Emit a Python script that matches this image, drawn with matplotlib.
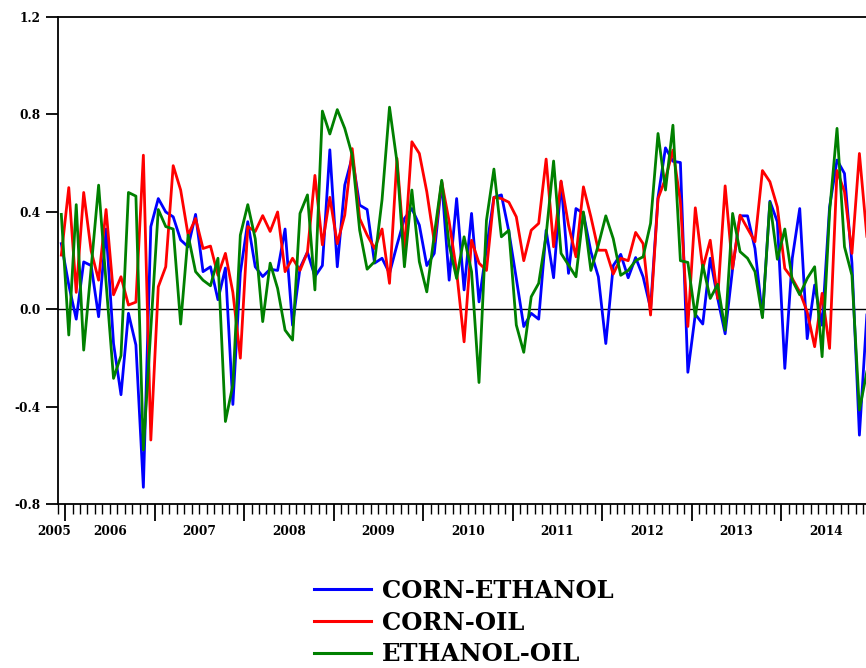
import numpy as np
import matplotlib
matplotlib.use("Agg")
import matplotlib.pyplot as plt
from matplotlib.lines import Line2D

# Monthly observations, Dec 2005 .. Dec 2014
start_year, start_month = 2005, 12
corn_ethanol = [
    0.27, 0.10, -0.04, 0.195, 0.18, -0.03, 0.33, -0.14, -0.35, -0.016, -0.146, -0.73,
    0.34, 0.455, 0.40, 0.38, 0.285, 0.257, 0.39, 0.155, 0.175, 0.04, 0.17, -0.39,
    0.15, 0.36, 0.175, 0.135, 0.165, 0.16, 0.33, -0.065, 0.17, 0.235, 0.135, 0.18,
    0.655, 0.175, 0.51, 0.626, 0.428, 0.41, 0.19, 0.21, 0.148, 0.264, 0.373, 0.414,
    0.346, 0.18, 0.23, 0.524, 0.12, 0.455, 0.08, 0.394, 0.031, 0.25, 0.46, 0.47,
    0.32, 0.127, -0.07, -0.016, -0.04, 0.325, 0.13, 0.524, 0.148, 0.414, 0.394, 0.237,
    0.134, -0.14, 0.18, 0.226, 0.13, 0.213, 0.134, 0.004, 0.46, 0.663, 0.608, 0.603,
    -0.258, -0.02, -0.06, 0.21, 0.045, -0.1, 0.168, 0.384, 0.384, 0.25, -0.03, 0.444,
    0.36, -0.242, 0.21, 0.414, -0.12, 0.1, -0.065, 0.42, 0.613, 0.558, 0.19, -0.516,
    -0.023,
]
corn_oil = [
    0.223, 0.50, 0.07, 0.48, 0.24, 0.12, 0.41, 0.06, 0.134, 0.018, 0.03, 0.633,
    -0.536, 0.093, 0.175, 0.59, 0.49, 0.305, 0.373, 0.25, 0.26, 0.14, 0.23, 0.07,
    -0.2, 0.34, 0.32, 0.385, 0.32, 0.40, 0.155, 0.21, 0.16, 0.235, 0.55, 0.265,
    0.46, 0.27, 0.387, 0.66, 0.373, 0.305, 0.25, 0.33, 0.107, 0.62, 0.237, 0.688,
    0.64, 0.483, 0.278, 0.524, 0.36, 0.155, -0.133, 0.284, 0.19, 0.16, 0.46, 0.455,
    0.44, 0.38, 0.2, 0.325, 0.353, 0.617, 0.257, 0.527, 0.346, 0.216, 0.503, 0.38,
    0.243, 0.243, 0.145, 0.21, 0.2, 0.316, 0.27, -0.023, 0.455, 0.537, 0.654, 0.442,
    -0.07, 0.417, 0.168, 0.284, 0.045, 0.507, 0.168, 0.387, 0.332, 0.278, 0.57, 0.524,
    0.42, 0.168, 0.127, 0.072, -0.01, -0.153, 0.066, -0.16, 0.57, 0.483, 0.23, 0.64,
    0.3,
]
ethanol_oil = [
    0.39, -0.105, 0.43, -0.167, 0.17, 0.51, 0.11, -0.283, -0.19, 0.48, 0.465, -0.577,
    -0.08, 0.41, 0.34, 0.33, -0.06, 0.305, 0.155, 0.12, 0.097, 0.21, -0.46, -0.31,
    0.305, 0.43, 0.29, -0.05, 0.19, 0.086, -0.085, -0.126, 0.394, 0.47, 0.08, 0.814,
    0.72, 0.82, 0.743, 0.633, 0.325, 0.165, 0.196, 0.45, 0.83, 0.606, 0.175, 0.49,
    0.196, 0.072, 0.305, 0.53, 0.264, 0.127, 0.298, 0.155, -0.3, 0.366, 0.576, 0.298,
    0.325, -0.064, -0.176, 0.052, 0.107, 0.305, 0.609, 0.23, 0.182, 0.134, 0.4, 0.16,
    0.264, 0.384, 0.29, 0.14, 0.16, 0.2, 0.216, 0.353, 0.722, 0.49, 0.756, 0.2,
    0.193, -0.03, 0.182, 0.045, 0.103, -0.085, 0.394, 0.237, 0.21, 0.155, -0.034, 0.44,
    0.206, 0.33, 0.12, 0.06, 0.127, 0.175, -0.194, 0.4, 0.743, 0.257, 0.14, -0.413,
    -0.256,
]
series_names = ["CORN-ETHANOL", "CORN-OIL", "ETHANOL-OIL"]
series_colors = ["#0000ff", "#ff0000", "#008000"]
years = list(range(2005, 2015))
y_ticks = [-0.8, -0.4, 0.0, 0.4, 0.8, 1.2]

plt.rcParams['font.family'] = ['DejaVu Serif']
plt.rcParams['font.weight'] = 'bold'

fig = plt.figure(figsize=(8.66, 6.68), dpi=100)
ax = fig.add_axes([0.0665, 0.245, 0.9388, 0.7295])

n = len(corn_ethanol)
x = np.arange(n)
for vals, name, col in zip([corn_ethanol, corn_oil, ethanol_oil], series_names, series_colors):
    ax.plot(x, vals, color=col, lw=2.0, label=name)

ax.axhline(0, color='black', lw=1.0, zorder=1)

ax.set_xlim(-0.5, n - 0.5)
ax.set_ylim(-0.8, 1.2)
ax.set_yticks(y_ticks)
ax.set_yticklabels([f"{v:.1f}" for v in y_ticks])

def month_index(year, month):
    return (year - start_year) * 12 + (month - start_month)

major = [month_index(y, 1) - 0.5 for y in years if month_index(y, 1) > 0]
minor = [k - 0.5 for k in range(n + 1)]
ax.set_xticks(major)
ax.set_xticklabels([])
ax.set_xticks(minor, minor=True)
ax.tick_params(axis='x', which='major', length=12, width=1.3, direction='out')
ax.tick_params(axis='x', which='minor', length=7, width=1.0, direction='out')
ax.tick_params(axis='y', which='major', length=9, width=1.3, direction='out',
               labelsize=8.7, pad=3)

for yr in years:
    idx = [k for k in range(n) if ((start_month - 1 + k) // 12 + start_year) == yr]
    if len(idx) >= 6:
        cx = np.mean(idx)
    else:
        cx = min(idx) - 1.0
    ax.text(cx, -0.055, str(yr), transform=ax.get_xaxis_transform(),
            ha='center', va='center', fontsize=8.7, fontweight='bold')

ax.spines['right'].set_visible(False)
for s in ['left', 'top', 'bottom']:
    ax.spines[s].set_linewidth(1.3)

handles = [Line2D([], [], color=c, lw=2.2) for c in series_colors]
fig.legend(handles, series_names, loc='center left', bbox_to_anchor=(0.3626, 0.068),
           frameon=False, handlelength=2.35, handletextpad=0.45,
           labelspacing=0.32, borderpad=0, borderaxespad=0,
           prop={'weight': 'bold', 'size': 17.5, 'family': 'DejaVu Serif'})

fig.savefig("out.png", dpi=100)
